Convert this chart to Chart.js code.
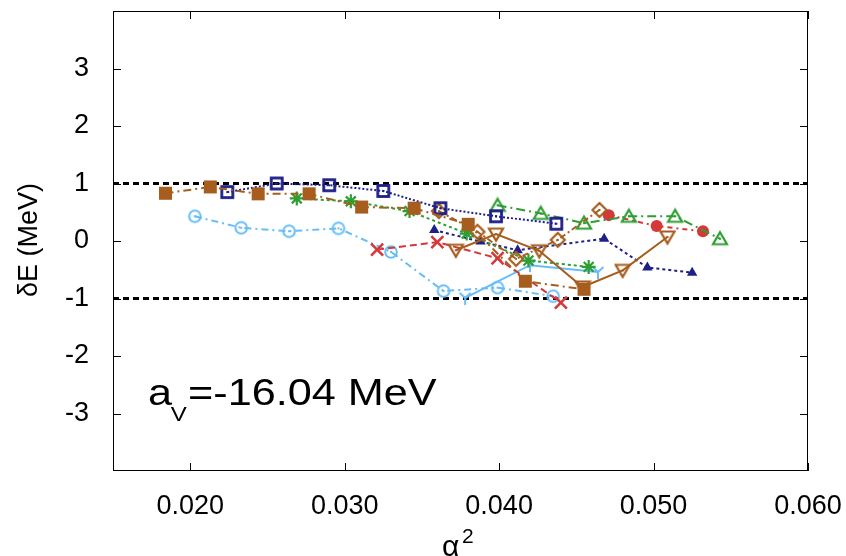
<!DOCTYPE html>
<html>
<head>
<meta charset="utf-8">
<script src="https://cdn.jsdelivr.net/npm/chart.js@4.4.1/dist/chart.umd.min.js"></script>
<style>
  html, body { margin: 0; background: #fff; }
</style>
</head>
<body>
<canvas id="dEChart" width="846" height="556"></canvas>
<script>
// axis ranges and tick values
var xRange = [0.015, 0.060];
var yRange = [-4, 4];
var xTicks = [0.020, 0.030, 0.040, 0.050, 0.060];
var yTicks = [-3, -2, -1, 0, 1, 2, 3];

// +/-1 MeV band
var bandX = [0.015, 0.060];
var bandY = [1, -1];

// brown filled squares
var fsqX = [0.0184, 0.0213, 0.0244, 0.0277, 0.0311, 0.0345, 0.0380, 0.0417, 0.0455];
var fsqY = [0.83, 0.94, 0.82, 0.82, 0.59, 0.57, 0.29, -0.70, -0.84];
// navy open squares
var osqX = [0.0224, 0.0256, 0.0290, 0.0325, 0.0362, 0.0398, 0.0437];
var osqY = [0.85, 1.00, 0.97, 0.87, 0.57, 0.43, 0.30];
// light blue open circles
var ocX = [0.0203, 0.0233, 0.0264, 0.0296, 0.0330, 0.0364, 0.0399, 0.0435];
var ocY = [0.43, 0.23, 0.17, 0.22, -0.19, -0.87, -0.81, -0.96];
// light blue solid line
var lbX = [0.0378, 0.0420, 0.0464];
var lbY = [-0.99, -0.42, -0.54];
// red crosses
var rxX = [0.0321, 0.0360, 0.0399, 0.0440];
var rxY = [-0.15, -0.02, -0.30, -1.07];
// red filled circles
var rcX = [0.0471, 0.0502, 0.0532];
var rcY = [0.45, 0.26, 0.17];
// green open triangles
var gtX = [0.0399, 0.0427, 0.0455, 0.0484, 0.0514, 0.0543];
var gtY = [0.62, 0.48, 0.31, 0.43, 0.43, 0.04];
// green stars
var gsX = [0.0269, 0.0304, 0.0342, 0.0379, 0.0419, 0.0458];
var gsY = [0.74, 0.69, 0.52, 0.13, -0.34, -0.45];
// navy filled triangles
var ntX = [0.0358, 0.0388, 0.0412, 0.0468, 0.0496, 0.0525];
var ntY = [0.19, -0.01, -0.16, 0.04, -0.46, -0.55];
// brown open diamonds
var bdX = [0.0361, 0.0386, 0.0411, 0.0438, 0.0465];
var bdY = [0.52, 0.16, -0.31, 0.02, 0.54];
// brown open down triangles
var btX = [0.0372, 0.0398, 0.0426, 0.0454, 0.0480, 0.0509];
var btY = [-0.16, 0.12, -0.17, -0.80, -0.51, 0.07];

var brown = '#a65d1d', navy = '#1f1f88', sky = '#66bdf7',
    red = '#d4383a', green = '#2e9e32';

function pts(xs, ys) {
  return xs.map(function (x, i) { return { x: x, y: ys[i] }; });
}

// small canvases used as point styles
function marker(size, paint) {
  var c = document.createElement('canvas');
  c.width = size; c.height = size;
  var g = c.getContext('2d');
  paint(g, size / 2);
  return c;
}
function dot(g, c, col) {
  g.fillStyle = col;
  g.fillRect(c - 1, c - 1, 2, 2);
}
function openSquare(col) {
  return marker(16, function (g, c) {
    g.strokeStyle = col; g.lineWidth = 2.8;
    g.strokeRect(2.5, 2.5, 11, 11);
    dot(g, c, col);
  });
}
function openCircle(col) {
  return marker(16, function (g, c) {
    g.strokeStyle = col; g.lineWidth = 2;
    g.beginPath(); g.arc(c, c, 5.8, 0, Math.PI * 2); g.stroke();
    dot(g, c, col);
  });
}
function openTri(col, down) {
  return marker(18, function (g, c) {
    g.strokeStyle = col; g.lineWidth = 2.2; g.lineJoin = 'miter';
    g.beginPath();
    if (down) { g.moveTo(2, 3.5); g.lineTo(16, 3.5); g.lineTo(9, 15.5); }
    else { g.moveTo(9, 2.5); g.lineTo(16, 14.5); g.lineTo(2, 14.5); }
    g.closePath(); g.stroke();
    dot(g, c, col);
  });
}
function openDiamond(col) {
  return marker(18, function (g, c) {
    g.strokeStyle = col; g.lineWidth = 2.2;
    g.beginPath();
    g.moveTo(9, 2); g.lineTo(16, 9); g.lineTo(9, 16); g.lineTo(2, 9);
    g.closePath(); g.stroke();
    dot(g, c, col);
  });
}
function yMark(col) {
  return marker(16, function (g, c) {
    g.strokeStyle = col; g.lineWidth = 2;
    g.beginPath();
    g.moveTo(c, c); g.lineTo(2.5, 3);
    g.moveTo(c, c); g.lineTo(13.5, 3);
    g.moveTo(c, c); g.lineTo(c, 15);
    g.stroke();
  });
}

function series(data, col, style, dash, extra) {
  var d = {
    data: data,
    showLine: true,
    borderColor: col,
    backgroundColor: col,
    borderWidth: 2,
    borderDash: dash,
    pointStyle: style,
    pointRadius: 7,
    pointBorderWidth: 2,
    pointBorderColor: col,
    pointBackgroundColor: col
  };
  for (var k in extra) d[k] = extra[k];
  return d;
}

var datasets = [
  series(pts(fsqX, fsqY), brown, 'rect', [8, 4, 2, 4], { pointRadius: 9.2, pointBorderWidth: 0 }),
  series(pts(osqX, osqY), navy, openSquare(navy), [2, 2]),
  series(pts(bdX, bdY), brown, openDiamond(brown), [6, 3, 2, 3]),
  series(pts(btX, btY), brown, openTri(brown, true), []),
  series(pts(gsX, gsY), green, 'star', [3, 3], { pointRadius: 7, pointBorderWidth: 2.2 }),
  series(pts(gtX, gtY), green, openTri(green, false), [9, 4, 2, 4]),
  series(pts(rcX, rcY), red, 'circle', [5, 4, 2, 4], { pointRadius: 6, pointBorderWidth: 0 }),
  series(pts(rxX, rxY), red, 'crossRot', [7, 4], { pointRadius: 8.5, pointBorderWidth: 2.5 }),
  series(pts(ntX, ntY), navy, 'triangle', [3, 3], { pointRadius: 6, pointBorderWidth: 0 }),
  series(pts(lbX, lbY), sky, yMark(sky), []),
  series(pts(ocX, ocY), sky, openCircle(sky), [7, 4, 2, 4])
];
bandY.forEach(function (v) {
  datasets.push({
    data: pts(bandX, [v, v]),
    showLine: true,
    borderColor: '#000',
    borderWidth: 3,
    borderDash: [6, 4],
    pointRadius: 0
  });
});

// frame, inward ticks, titles and the a_V note
var frame = {
  id: 'frame',
  afterDraw: function (chart) {
    var ctx = chart.ctx, a = chart.chartArea;
    var xs = chart.scales.x, ys = chart.scales.y;
    ctx.save();
    ctx.strokeStyle = '#000';
    ctx.lineWidth = 1;
    ctx.strokeRect(a.left + 0.5, a.top + 0.5, a.right - a.left - 1, a.bottom - a.top - 1);
    ctx.beginPath();
    xTicks.forEach(function (v) {
      var p = Math.round(xs.getPixelForValue(v)) + 0.5;
      ctx.moveTo(p, a.bottom); ctx.lineTo(p, a.bottom - 8);
      ctx.moveTo(p, a.top); ctx.lineTo(p, a.top + 8);
    });
    yTicks.forEach(function (v) {
      var p = Math.round(ys.getPixelForValue(v)) + 0.5;
      ctx.moveTo(a.left, p); ctx.lineTo(a.left + 8, p);
      ctx.moveTo(a.right, p); ctx.lineTo(a.right - 8, p);
    });
    ctx.stroke();

    ctx.fillStyle = '#000';
    // y title
    ctx.save();
    ctx.translate(30, 240);
    ctx.rotate(-Math.PI / 2);
    ctx.font = '27px "Liberation Sans", Arial, sans-serif';
    ctx.textAlign = 'center';
    ctx.textBaseline = 'middle';
    ctx.fillText('\u03b4E (MeV)', 0, 0);
    ctx.restore();
    // x title
    ctx.font = '30px "Liberation Sans", Arial, sans-serif';
    ctx.textAlign = 'left';
    ctx.textBaseline = 'alphabetic';
    ctx.fillText('\u03b1', 442, 556);
    ctx.font = '21px "Liberation Sans", Arial, sans-serif';
    ctx.fillText('2', 462, 543);
    // a_V note
    ctx.save();
    ctx.translate(148, 405);
    ctx.scale(1.2, 1);
    ctx.font = '36px "Liberation Sans", Arial, sans-serif';
    ctx.fillText('a', 0, 0);
    var w = ctx.measureText('a').width;
    ctx.font = '20px "Liberation Sans", Arial, sans-serif';
    ctx.fillText('V', w - 1, 16);
    w += ctx.measureText('V').width;
    ctx.font = '36px "Liberation Sans", Arial, sans-serif';
    ctx.fillText('=-16.04 MeV', w, 0);
    ctx.restore();
    ctx.restore();
  }
};

var tickFont = { family: '"Liberation Sans", Arial, sans-serif', size: 27 };

new Chart(document.getElementById('dEChart').getContext('2d'), {
  type: 'scatter',
  data: { datasets: datasets },
  options: {
    responsive: false,
    animation: false,
    layout: { padding: { top: 11, right: 38, left: 0, bottom: 0 } },
    plugins: { legend: { display: false }, tooltip: { enabled: false } },
    scales: {
      x: {
        type: 'linear',
        min: xRange[0], max: xRange[1],
        afterBuildTicks: function (s) { s.ticks = xTicks.map(function (v) { return { value: v }; }); },
        afterFit: function (s) {
          s.height = 85;
          s.paddingLeft = 0; s.paddingRight = 0;
        },
        grid: { display: false },
        border: { display: false },
        ticks: {
          color: '#000', font: tickFont, padding: 11, maxRotation: 0,
          callback: function (v) { return v.toFixed(3); }
        }
      },
      y: {
        type: 'linear',
        min: yRange[0], max: yRange[1],
        afterBuildTicks: function (s) { s.ticks = yTicks.map(function (v) { return { value: v }; }); },
        afterFit: function (s) {
          s.width = 113;
          s.paddingTop = 0; s.paddingBottom = 0;
        },
        grid: { display: false },
        border: { display: false },
        ticks: { color: '#000', font: tickFont, padding: 16 }
      }
    }
  },
  plugins: [frame]
});
</script>
</body>
</html>
